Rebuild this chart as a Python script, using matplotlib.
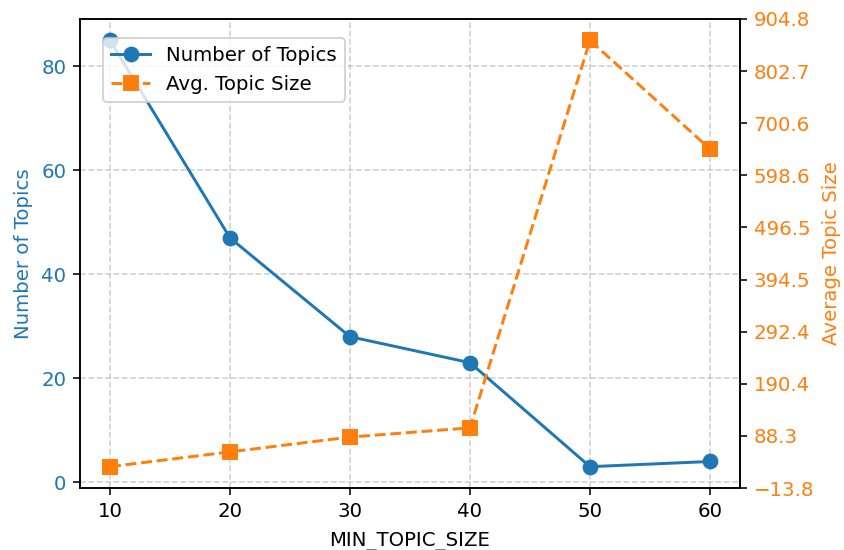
import numpy as np
import matplotlib
matplotlib.use("Agg")
import matplotlib.pyplot as plt

min_topic_size = [10, 20, 30, 40, 50, 60]
num_topics = [85, 47, 28, 23, 3, 4]
avg_topic_size = [28, 57, 86, 104, 863, 650]

plt.rcParams['font.size'] = 10
blue = '#1f77b4'
orange = '#ff7f0e'

DPI = 142
fig = plt.figure(figsize=(844 / DPI, 550 / DPI), dpi=DPI)
ax = fig.add_axes([80 / 844, 1 - 488 / 550, 660 / 844, 469 / 550])
ax2 = ax.twinx()

l1, = ax.plot(min_topic_size, num_topics, '-o', color=blue, lw=1.5, markersize=7, label='Number of Topics')
l2, = ax2.plot(min_topic_size, avg_topic_size, '--s', color=orange, lw=1.5, markersize=7, label='Avg. Topic Size')

ax.set_xlabel('MIN_TOPIC_SIZE', labelpad=5.5)
ax.set_ylabel('Number of Topics', color=blue)
ax.tick_params(axis='y', labelcolor=blue)
ax2.set_ylabel('Average Topic Size', color=orange)
ax2.tick_params(axis='y', labelcolor=orange)

ax.set_xticks(min_topic_size)
ax.grid(True, linestyle='--', alpha=0.6)

lo, hi = ax2.get_ylim()
ticks = np.linspace(lo, hi, 10)
ax2.set_yticks(ticks)
ax2.set_yticklabels([f'{t:.1f}'.replace('-', '\u2212') for t in ticks])
ax2.set_ylim(lo, hi)

ax2.legend(handles=[l1, l2], loc='upper left', bbox_to_anchor=(0.02, 0.98))

fig.savefig('out.png', dpi=DPI)
